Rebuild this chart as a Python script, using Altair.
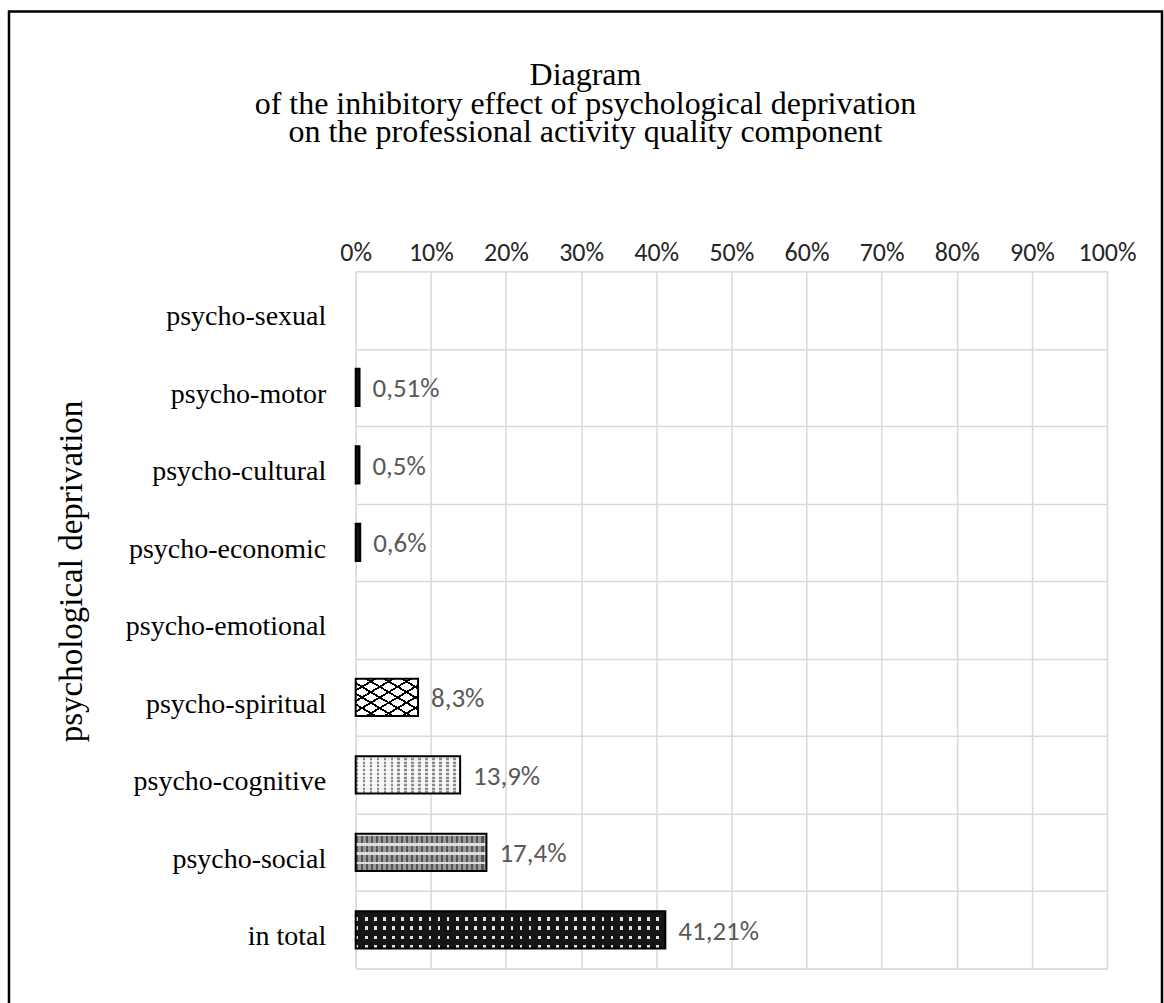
import altair as alt
import pandas as pd

# Kinds of psychological deprivation, top to bottom
categories = [
    "psycho-sexual",
    "psycho-motor",
    "psycho-cultural",
    "psycho-economic",
    "psycho-emotional",
    "psycho-spiritual",
    "psycho-cognitive",
    "psycho-social",
    "in total",
]
# Share of the inhibitory effect, in percent (None = no bar)
values = [None, 0.51, 0.5, 0.6, None, 8.3, 13.9, 17.4, 41.21]

# Background tone of every bar (the hatching is layered on top)
bar_fills = [
    "#ffffff", "#111111", "#111111", "#111111", "#ffffff",
    "#ffffff", "#f2f2f2", "#9a9a9a", "#151515",
]
x_ticks = [0, 10, 20, 30, 40, 50, 60, 70, 80, 90, 100]

title_lines = [
    "Diagram",
    "of the inhibitory effect of psychological deprivation",
    "on the professional activity quality component",
]

serif = "Liberation Serif, Times New Roman, serif"
narrow = "Carlito, Liberation Sans Narrow, Lato, sans-serif"
CLEAR = "rgba(0,0,0,0)"

# Hatching per bar: (direction, period in px, ink share, ink colour)
hatching = {
    "psycho-spiritual": [
        ("diag", 19, 0.2, "#000000"),
        ("anti", 19, 0.2, "#000000"),
    ],
    "psycho-cognitive": [
        ("v", 7, 0.38, "#8a8a8a"),
        ("h", 3.6, 0.45, "rgba(255,255,255,0.7)"),
    ],
    "psycho-social": [
        ("v", 5, 0.42, "#555555"),
        ("h", 9, 0.28, "#dedede"),
    ],
    "in total": [
        ("v", 9, 0.3, "#e0e0e0"),
        ("h", 8.5, 0.62, "#151515"),
    ],
}

df = pd.DataFrame({"category": categories, "value": values})

W, H = 752, 698
BAND = 0.48
bar_len = dict(zip(categories, values))
bar_thick = BAND * H / len(categories)

base = alt.Chart(df).transform_filter("isValid(datum.value)")

y_enc = alt.Y(
    "category:N",
    sort=categories,
    scale=alt.Scale(domain=categories, paddingInner=0, paddingOuter=0),
    axis=alt.Axis(
        title="psychological deprivation",
        titleFont=serif,
        titleFontSize=33,
        titleFontWeight="normal",
        titleColor="black",
        titleAngle=-90,
        titleAlign="center",
        titleBaseline="middle",
        titleX=-284,
        titleY=300,
        labelFont=serif,
        labelFontSize=28,
        labelColor="black",
        labelPadding=30,
        labelOffset=7,
        labelLimit=0,
        domain=False,
        ticks=False,
        grid=True,
        gridColor="#d9d9d9",
        gridWidth=1.5,
        tickBand="extent",
    ),
)

x_enc = alt.X(
    "value:Q",
    scale=alt.Scale(domain=[0, 100], nice=False),
    axis=alt.Axis(
        orient="top",
        values=x_ticks,
        labelExpr="datum.value + '%'",
        labelFont=narrow,
        labelFontSize=26,
        labelColor="#262626",
        labelPadding=6,
        labelOverlap=False,
        labelFlush=False,
        labelLimit=0,
        domain=False,
        ticks=False,
        grid=True,
        gridColor="#d9d9d9",
        gridWidth=1.5,
        title=None,
    ),
)


def stripe_gradient(direction, period, share, ink, length, thick):
    """Hard-edged linear gradient that paints evenly spaced stripes."""
    if direction == "v":
        span, coords = length, dict(x1=0, y1=0, x2=1, y2=0)
    elif direction == "h":
        span, coords = thick, dict(x1=0, y1=0, x2=0, y2=1)
    elif direction == "diag":
        span, coords = 2 * length, dict(x1=0, y1=0, x2=1, y2=1)
    else:
        span, coords = 2 * length, dict(x1=0, y1=1, x2=1, y2=0)
    n = max(1, round(span / period))
    stops = []
    for i in range(n):
        a, b, c = i / n, (i + share) / n, (i + 1) / n
        stops += [
            alt.GradientStop(color=ink, offset=a),
            alt.GradientStop(color=ink, offset=b),
            alt.GradientStop(color=CLEAR, offset=b),
            alt.GradientStop(color=CLEAR, offset=c),
        ]
    return alt.LinearGradient(gradient="linear", stops=stops, **coords)


bars = base.mark_bar(height=alt.RelativeBandSize(BAND), strokeWidth=0).encode(
    y=y_enc,
    x=x_enc,
    color=alt.Color(
        "category:N",
        scale=alt.Scale(domain=categories, range=bar_fills),
        legend=None,
    ),
)

hatch_layers = []
for cat, specs in hatching.items():
    length = bar_len[cat] / 100 * W
    for direction, period, share, ink in specs:
        grad = stripe_gradient(direction, period, share, ink, length, bar_thick)
        hatch_layers.append(
            base.transform_filter(alt.datum.category == cat)
            .mark_bar(height=alt.RelativeBandSize(BAND), fill=grad, strokeWidth=0)
            .encode(y=y_enc, x=x_enc)
        )

outlines = base.mark_bar(
    height=alt.RelativeBandSize(BAND),
    fill=None,
    fillOpacity=0,
    stroke="black",
    strokeWidth=2,
).encode(y=y_enc, x=x_enc)

labels = base.transform_calculate(
    label="replace(format(datum.value, '.2~f'), '.', ',') + '%'"
).mark_text(
    align="left",
    baseline="middle",
    dx=13,
    dy=2,
    font=narrow,
    fontSize=27,
    color="#595959",
).encode(
    y=y_enc,
    x=x_enc,
    text="label:N",
)

# Outer frame drawn around the whole figure
frame = alt.Chart(pd.DataFrame({"f": [0]})).mark_rect(
    fill=None, stroke="black", strokeWidth=2.5
).encode(
    x=alt.value(-347),
    x2=alt.value(807),
    y=alt.value(-260),
    y2=alt.value(760),
)

# Three-line heading, centred on the frame
heading = alt.Chart(pd.DataFrame({"f": [0]})).mark_text(
    font=serif,
    fontSize=32,
    lineHeight=28.5,
    align="center",
    baseline="alphabetic",
    color="black",
).encode(
    x=alt.value(230),
    y=alt.value(-186),
    text=alt.value(title_lines),
)

chart = (
    alt.layer(frame, heading, bars, *hatch_layers, outlines, labels)
    .properties(
        width=W,
        height=H,
        padding={"left": 7, "top": 9, "right": 0, "bottom": 0},
    )
    .configure_view(stroke="#d9d9d9", strokeWidth=1.5)
    .configure(background="white")
)

chart.save("out.html", embed_options={"renderer": "svg", "actions": False})
